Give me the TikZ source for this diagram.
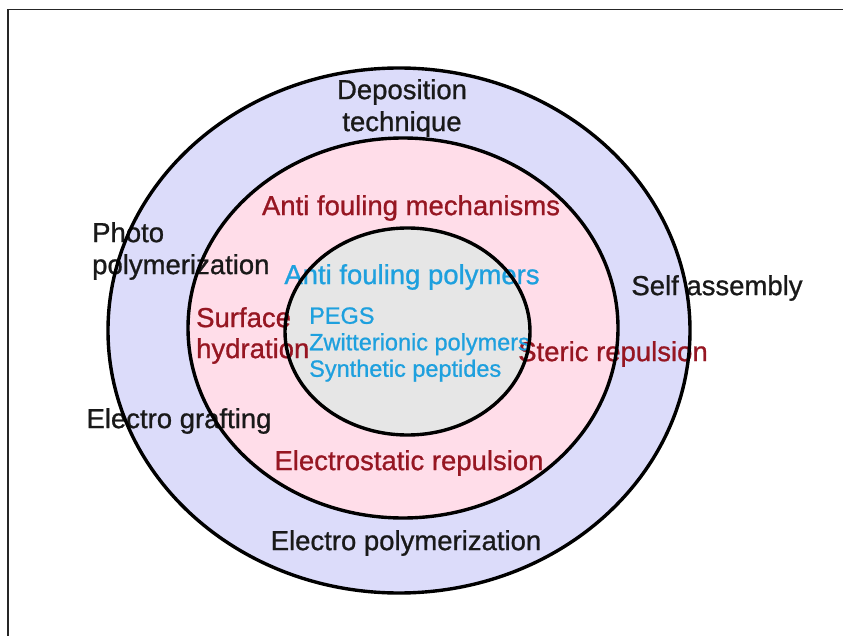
\documentclass[tikz,border=0pt]{standalone}
\usepackage{fontspec}
\setmainfont{Liberation Sans}[BoldFont={Liberation Sans}, BoldFeatures={FakeBold=0.9}]
\definecolor{ringblue}{RGB}{220,220,250}
\definecolor{ringpink}{RGB}{255,221,233}
\definecolor{coregray}{RGB}{230,230,230}
\definecolor{mechred}{RGB}{150,22,34}
\definecolor{polyblue}{RGB}{30,160,222}

\begin{document}
\begin{tikzpicture}[x=1pt, y=-1pt,
      techlabel/.style={inner sep=0pt, text=black!90, align=center,
        font=\fontsize{27.5}{32}\selectfont\bfseries},
      mechlabel/.style={inner sep=0pt, text=mechred, align=center,
        font=\fontsize{27.5}{31}\selectfont\bfseries},
      polylabel/.style={inner sep=0pt, text=polyblue, align=left,
        font=\fontsize{27.5}{32}\selectfont\bfseries},
      polyitem/.style={inner sep=0pt, text=polyblue, align=left,
        font=\fontsize{23.5}{26.5}\selectfont\bfseries},
      ring/.style={draw=black, line width=3.4pt}]

    \useasboundingbox (0,0) rectangle (843,636);
    \draw[line width=1.2pt, black!85] (8,636) -- (8,9.5) -- (843,9.5);

    % filled rings
    \fill[ringblue] (399,330.5) ellipse [x radius=291, y radius=262.5];
    \fill[ringpink] (403,328) ellipse [x radius=215, y radius=190];
    \fill[coregray] (407.5,331.5) ellipse [x radius=122.5, y radius=103.5];

    % deposition technique
    \node[techlabel] (dep) at (402,108) {Deposition\\technique};
    \node[techlabel, anchor=west, align=left] (photo) at (92,251) {Photo\\polymerization};
    \node[techlabel] (self) at (717,288) {Self assembly};
    \node[techlabel] (graft) at (179,421) {Electro grafting};
    \node[techlabel] (epoly) at (406,543) {Electro polymerization};

    % anti fouling mechanisms
    \node[mechlabel] (mech) at (411,208) {Anti fouling mechanisms};
    \node[mechlabel, anchor=west, align=left] (hydr) at (196,335.5) {Surface\\hydration};
    \node[mechlabel] (steric) at (613,354) {Steric repulsion};
    \node[mechlabel] (estat) at (409,463) {Electrostatic repulsion};

    % anti fouling polymers
    \node[polylabel] (poly) at (412,277) {Anti fouling polymers};
    \node[polyitem, anchor=west] (list) at (309,344.5) {PEGS\\Zwitterionic polymers\\Synthetic peptides};

    % ring outlines
    \draw[ring] (399,330.5) ellipse [x radius=291, y radius=262.5];
    \draw[ring] (403,328) ellipse [x radius=215, y radius=190];
    \draw[ring] (407.5,331.5) ellipse [x radius=122.5, y radius=103.5];

  \end{tikzpicture}
\end{document}
